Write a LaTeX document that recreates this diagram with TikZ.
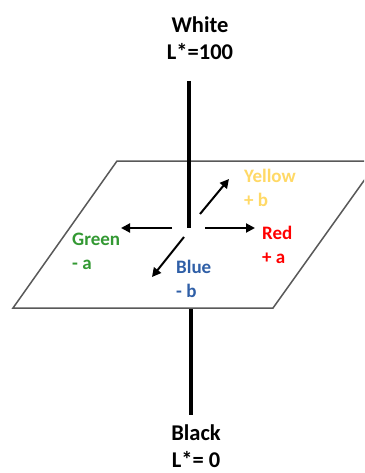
\documentclass[tikz,border=0pt]{standalone}
\usepackage{fontspec}
\setmainfont{Carlito}
\usetikzlibrary{arrows.meta}
\definecolor{cyellow}{HTML}{FFD966}
\definecolor{cred}{HTML}{FF0000}
\definecolor{cgreen}{HTML}{339933}
\definecolor{cblue}{HTML}{2F5FA7}
\definecolor{cplane}{HTML}{595959}
\tikzset{
  axis/.style={line width=4pt,black},
  arr/.style={line width=2pt,-{Triangle[length=9pt,width=9pt]}},
  big/.style={font=\bfseries\fontsize{22.5}{27}\selectfont,align=center,inner sep=0pt},
  lab/.style={font=\bfseries\fontsize{19}{24}\selectfont,align=left,inner sep=0pt,anchor=north west},
}
\begin{document}
\begin{tikzpicture}[x=1pt,y=-1pt]
\clip (0,0) rectangle (364,473);
\fill[white] (0,0) rectangle (364,473);
% plane
\draw[cplane,line width=1.5pt] (13,308) -- (117,161) -- (420,161) -- (378,161) -- (273,308) -- cycle;
\coordinate (c) at (189,228);
\coordinate (top) at (189,81);
\coordinate (bot1) at (191,309);
\coordinate (bot2) at (191,415);
\draw[axis] (top) -- (c);
\draw[axis] (bot1) -- (bot2);
% arrows
\coordinate (ls) at (172,228); \coordinate (le) at (121,228);
\coordinate (rs) at (205,228); \coordinate (re) at (255,228);
\coordinate (ys) at (200,214); \coordinate (ye) at (229,179);
\coordinate (bs) at (184,237); \coordinate (be) at (152,277);
\draw[arr] (ls) -- (le);
\draw[arr] (rs) -- (re);
\draw[arr] (ys) -- (ye);
\draw[arr] (bs) -- (be);
% labels
\node[big] (white) at (200,38) {White\\L*=100};
\node[big] (black) at (196,446) {Black\\L*= 0};
\node[lab,text=cyellow] (yellow) at (244,169) {Yellow\\+ b};
\node[lab,text=cred] (red) at (262,226) {Red\\+ a};
\node[lab,text=cgreen] (green) at (72,233) {Green\\- a};
\node[lab,text=cblue] (blue) at (176,260) {Blue\\- b};
\end{tikzpicture}
\end{document}
